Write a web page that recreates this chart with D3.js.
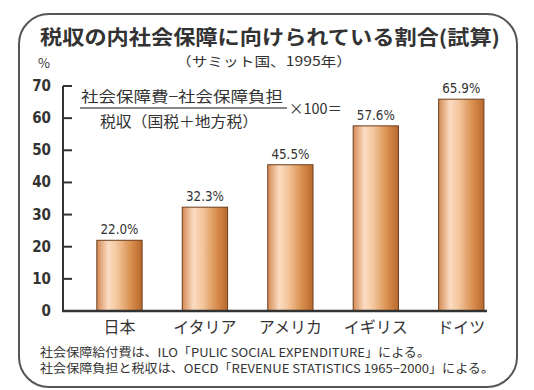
<!DOCTYPE html>
<html>
<head>
<meta charset="utf-8">
<script src="https://cdn.jsdelivr.net/npm/d3@7"></script>
<style>
  body { margin: 0; background: #fff; }
  svg text { font-family: "Noto Sans CJK JP", "Noto Sans", sans-serif; fill: #333; }
  .num { font-family: "Liberation Sans Narrow", "DejaVu Sans Condensed", "Liberation Sans", sans-serif; }
</style>
</head>
<body>
<svg id="chart" width="534" height="390"></svg>
<script>
const countries = ['日本', 'イタリア', 'アメリカ', 'イギリス', 'ドイツ']
const shares = [22.0, 32.3, 45.5, 57.6, 65.9]
const shareLabels = ['22.0%', '32.3%', '45.5%', '57.6%', '65.9%']
const yTicks = [0, 10, 20, 30, 40, 50, 60, 70]
const footnotes = [
  '社会保障給付費は、ILO「PULIC SOCIAL EXPENDITURE」による。',
  '社会保障負担と税収は、OECD「REVENUE STATISTICS 1965−2000」による。'
]

const svg = d3.select('#chart')

// gradient for the bars
const defs = svg.append('defs')
const grad = defs.append('linearGradient').attr('id', 'barGrad')
  .attr('x1', '0%').attr('x2', '100%').attr('y1', '0%').attr('y2', '0%')
const stops = [[0, '#d48a55'], [0.25, '#fbdcc2'], [0.45, '#f3c69c'], [0.75, '#d98f4e'], [1, '#b8692d']]
stops.forEach(s => grad.append('stop').attr('offset', s[0]).attr('stop-color', s[1]))

// frame
svg.append('rect')
  .attr('x', 19).attr('y', 14).attr('width', 498).attr('height', 373)
  .attr('rx', 30).attr('ry', 30)
  .style('fill', '#fff').style('stroke', '#555').style('stroke-width', 2)

// titles
svg.append('text').attr('x', 40).attr('y', 45)
  .attr('textLength', 460).attr('lengthAdjust', 'spacingAndGlyphs')
  .style('font-size', '20px').style('font-weight', 'bold')
  .text('税収の内社会保障に向けられている割合(試算)')
svg.append('text').attr('x', 176).attr('y', 66)
  .attr('textLength', 176).attr('lengthAdjust', 'spacingAndGlyphs')
  .style('font-size', '13px')
  .text('（サミット国、1995年）')

const y = d3.scaleLinear().domain([0, 70]).range([311, 86])
const x = d3.scaleBand().domain(countries).range([76.75, 504]).paddingInner(0.47).paddingOuter(0.235)

// y axis
svg.append('text').attr('x', 38).attr('y', 68).style('font-size', '13px').text('%')
svg.append('line').attr('x1', 63).attr('x2', 63).attr('y1', y(70)).attr('y2', y(0))
  .style('stroke', '#333').style('stroke-width', 2)
svg.selectAll('.tick').data(yTicks.filter(d => d > 0)).enter().append('line')
  .attr('x1', 63).attr('x2', 72).attr('y1', d => y(d)).attr('y2', d => y(d))
  .style('stroke', '#333').style('stroke-width', 2)
svg.selectAll('.ylab').data(yTicks).enter().append('text')
  .attr('class', 'num')
  .attr('x', 51).attr('y', d => y(d) + 5)
  .attr('text-anchor', 'end')
  .style('font-size', '15px').style('font-weight', 'bold')
  .text(d => d)

// bars
svg.selectAll('.bar').data(shares).enter().append('rect')
  .attr('x', (d, i) => x(countries[i]))
  .attr('y', d => y(d))
  .attr('width', x.bandwidth())
  .attr('height', d => y(0) - y(d))
  .style('fill', 'url(#barGrad)')
  .style('stroke', '#6b3d1e').style('stroke-width', 1)

// x baseline
svg.append('line').attr('x1', 62).attr('x2', 487).attr('y1', y(0)).attr('y2', y(0))
  .style('stroke', '#333').style('stroke-width', 2.5)

// value labels
svg.selectAll('.val').data(shares).enter().append('text')
  .attr('class', 'num')
  .attr('x', (d, i) => x(countries[i]) + x.bandwidth() / 2)
  .attr('y', d => y(d) - 6)
  .attr('text-anchor', 'middle')
  .attr('textLength', 38).attr('lengthAdjust', 'spacingAndGlyphs')
  .style('font-size', '14px')
  .text((d, i) => shareLabels[i])

// category labels
svg.selectAll('.cat').data(countries).enter().append('text')
  .attr('x', d => x(d) + x.bandwidth() / 2)
  .attr('y', 333)
  .attr('text-anchor', 'middle')
  .style('font-size', '16px')
  .text(d => d)

// formula
svg.append('text').attr('x', 81).attr('y', 102)
  .attr('textLength', 202).attr('lengthAdjust', 'spacingAndGlyphs')
  .style('font-size', '15px')
  .text('社会保障費−社会保障負担')
svg.append('line').attr('x1', 80).attr('x2', 287).attr('y1', 108).attr('y2', 108)
  .style('stroke', '#888').style('stroke-width', 2)
svg.append('text').attr('x', 100).attr('y', 127)
  .attr('textLength', 158).attr('lengthAdjust', 'spacingAndGlyphs')
  .style('font-size', '15px')
  .text('税収（国税＋地方税）')
svg.append('text').attr('x', 289).attr('y', 114)
  .attr('textLength', 53).attr('lengthAdjust', 'spacingAndGlyphs')
  .style('font-size', '15px')
  .text('×100＝')

// footnotes
const fnLen = [390, 454]
svg.selectAll('.fn').data(footnotes).enter().append('text')
  .attr('x', 40).attr('y', (d, i) => 357 + i * 16)
  .attr('textLength', (d, i) => fnLen[i]).attr('lengthAdjust', 'spacingAndGlyphs')
  .style('font-size', '12px')
  .text(d => d)
</script>
</body>
</html>
